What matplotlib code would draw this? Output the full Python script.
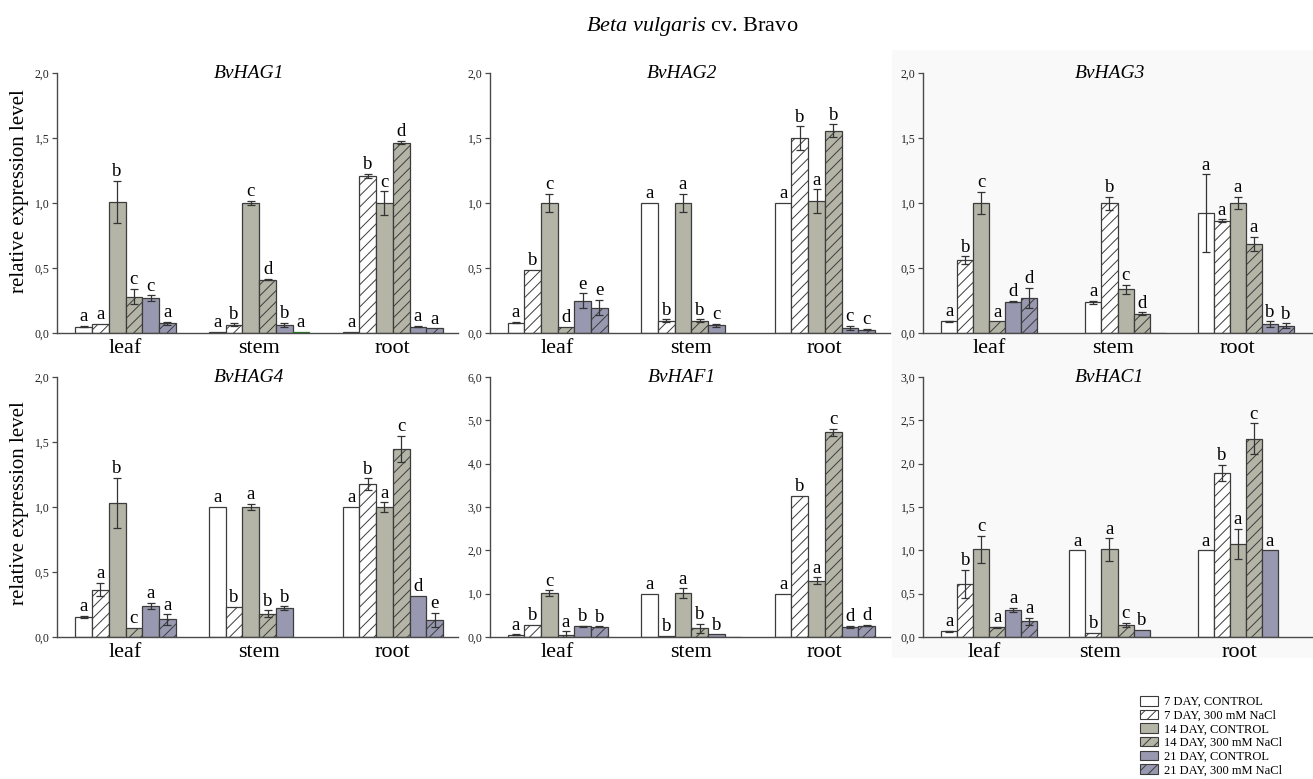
import numpy as np
import matplotlib
matplotlib.use("Agg")
import matplotlib.pyplot as plt
from matplotlib.patches import Patch, Rectangle
from matplotlib.ticker import FuncFormatter

nan = np.nan

plt.rcParams["font.family"] = ["Liberation Serif", "DejaVu Serif"]
plt.rcParams["mathtext.fontset"] = "custom"
plt.rcParams["mathtext.rm"] = "Liberation Serif"
plt.rcParams["mathtext.it"] = "Liberation Serif:italic"
plt.rcParams["hatch.linewidth"] = 0.7

TISSUES = ["leaf", "stem", "root"]
TREATMENTS = [
    "7 DAY, CONTROL",
    "7 DAY, 300 mM NaCl",
    "14 DAY, CONTROL",
    "14 DAY, 300 mM NaCl",
    "21 DAY, CONTROL",
    "21 DAY, 300 mM NaCl",
]
GENES = ["BvHAG1", "BvHAG2", "BvHAG3", "BvHAG4", "BvHAF1", "BvHAC1"]
Y_MAX = [2.0, 2.0, 2.0, 2.0, 6.0, 3.0]
Y_STEP = [0.5, 0.5, 0.5, 0.5, 1.0, 0.5]

# rows = leaf, stem, root ; columns = treatments in legend order
HAG1_MEAN = [[0.05, 0.07, 1.01, 0.28, 0.27, 0.075],
             [0.01, 0.065, 1.00, 0.41, 0.065, 0.01],
             [0.01, 1.21, 1.00, 1.465, 0.05, 0.035]]
HAG1_ERR = [[0.005, 0.0, 0.16, 0.058, 0.02, 0.01],
            [0.0, 0.01, 0.015, 0.005, 0.015, 0.0],
            [0.0, 0.015, 0.09, 0.015, 0.005, 0.0]]
HAG1_LET = [["a", "a", "b", "c", "c", "a"],
            ["a", "b", "c", "d", "b", "a"],
            ["a", "b", "c", "d", "a", "a"]]

HAG2_MEAN = [[0.08, 0.485, 1.0, 0.045, 0.25, 0.195],
             [1.0, 0.095, 1.0, 0.095, 0.06, nan],
             [1.0, 1.5, 1.015, 1.555, 0.04, 0.025]]
HAG2_ERR = [[0.005, 0.0, 0.07, 0.0, 0.055, 0.06],
            [0.0, 0.01, 0.07, 0.01, 0.01, 0.0],
            [0.0, 0.09, 0.09, 0.05, 0.015, 0.005]]
HAG2_LET = [["a", "b", "c", "d", "e", "e"],
            ["a", "b", "a", "b", "c", ""],
            ["a", "b", "a", "b", "c", "c"]]

HAG3_MEAN = [[0.09, 0.56, 1.0, 0.09, 0.24, 0.27],
             [0.235, 1.0, 0.335, 0.15, 0.003, nan],
             [0.92, 0.865, 1.0, 0.685, 0.07, 0.055]]
HAG3_ERR = [[0.005, 0.03, 0.085, 0.0, 0.005, 0.075],
            [0.015, 0.05, 0.035, 0.01, 0.0, 0.0],
            [0.3, 0.01, 0.045, 0.055, 0.02, 0.02]]
HAG3_LET = [["a", "b", "c", "a", "d", "d"],
            ["a", "b", "c", "d", "", ""],
            ["a", "a", "a", "a", "b", "b"]]

HAG4_MEAN = [[0.155, 0.365, 1.03, 0.07, 0.24, 0.135],
             [1.0, 0.23, 1.0, 0.18, 0.22, nan],
             [1.0, 1.175, 1.0, 1.445, 0.315, 0.13]]
HAG4_ERR = [[0.01, 0.05, 0.195, 0.0, 0.025, 0.04],
            [0.0, 0.0, 0.025, 0.025, 0.015, 0.0],
            [0.0, 0.045, 0.035, 0.1, 0.0, 0.055]]
HAG4_LET = [["a", "a", "b", "c", "a", "a"],
            ["a", "b", "a", "b", "b", ""],
            ["a", "b", "a", "c", "d", "e"]]

HAF1_MEAN = [[0.05, 0.28, 1.01, 0.05, 0.25, 0.235],
             [1.0, 0.03, 1.01, 0.2, 0.06, 0.01],
             [1.0, 3.25, 1.3, 4.73, 0.235, 0.26]]
HAF1_ERR = [[0.01, 0.0, 0.07, 0.08, 0.01, 0.01],
            [0.0, 0.0, 0.11, 0.11, 0.0, 0.0],
            [0.0, 0.0, 0.08, 0.08, 0.02, 0.015]]
HAF1_LET = [["a", "b", "c", "a", "b", "b"],
            ["a", "b", "a", "b", "b", ""],
            ["a", "b", "a", "c", "d", "d"]]

HAC1_MEAN = [[0.065, 0.61, 1.01, 0.11, 0.31, 0.18],
             [1.0, 0.05, 1.01, 0.14, 0.085, nan],
             [1.0, 1.895, 1.07, 2.29, 1.0, nan]]
HAC1_ERR = [[0.005, 0.165, 0.155, 0.01, 0.025, 0.04],
            [0.0, 0.0, 0.13, 0.02, 0.0, 0.0],
            [0.0, 0.095, 0.175, 0.175, 0.0, 0.0]]
HAC1_LET = [["a", "b", "c", "a", "a", "a"],
            ["a", "b", "a", "c", "b", ""],
            ["a", "b", "a", "c", "a", ""]]

MEANS = [HAG1_MEAN, HAG2_MEAN, HAG3_MEAN, HAG4_MEAN, HAF1_MEAN, HAC1_MEAN]
ERRS = [HAG1_ERR, HAG2_ERR, HAG3_ERR, HAG4_ERR, HAF1_ERR, HAC1_ERR]
LETTERS = [HAG1_LET, HAG2_LET, HAG3_LET, HAG4_LET, HAF1_LET, HAC1_LET]

# fill / hatch per treatment
FILLS = ["white", "white", "#b4b5a7", "#b4b5a7", "#9899b0", "#9899b0"]
HATCHES = [None, "///", None, "///", None, "///"]
EDGE = "#3c3c3c"
AXCOL = "#4a4a4a"

W, H = 1313, 779
fig = plt.figure(figsize=(W / 100, H / 100), dpi=100)

# faint grey panel behind the right column
fig.patches.append(Rectangle((892 / W, 1 - 658 / H), (W - 892) / W, (658 - 50) / H,
                             transform=fig.transFigure, facecolor="#f9f9f9",
                             edgecolor="none", zorder=-5))

col_left = [57, 490, 923]
col_width = [401, 400, 389]
row_top = [73, 377]
ax_h = 260
xlims = [(-4.1, 19.9), (-4.05, 19.9), (-4.15, 20.15)]

fmt = FuncFormatter(lambda v, p: f"{v:.1f}".replace(".", ","))

for k, gene in enumerate(GENES):
    r, c = divmod(k, 3)
    ax = fig.add_axes([col_left[c] / W, 1 - (row_top[r] + ax_h) / H,
                       col_width[c] / W, ax_h / H])
    ax.patch.set_alpha(0)

    centers = [0, 8, 16]
    label_x = [0, 8, 16]
    if k == 2:
        centers = [0, 9, 16]
        label_x = [0, 7.7, 15.5]
    elif k == 5:
        label_x = [-0.3, 6.9, 15.6]

    mean = np.array(MEANS[k], dtype=float)
    err = np.array(ERRS[k], dtype=float)
    ymax = Y_MAX[k]

    for t in range(6):
        xs = np.array(centers) + (t - 2.5)
        bars = ax.bar(xs, mean[:, t], width=1.0, color=FILLS[t],
                      hatch=HATCHES[t], edgecolor=EDGE, linewidth=0.9, zorder=2)
        if k == 0 and t == 5:
            bars[1].set_edgecolor("#1e7b1e")
        sel = err[:, t] > 0
        if sel.any():
            ax.errorbar(xs[sel], mean[sel, t], yerr=err[sel, t], fmt="none",
                        ecolor="#333333", elinewidth=0.9, capsize=3.2,
                        capthick=0.9, zorder=3)
        for g in range(3):
            lab = LETTERS[k][g][t]
            if lab and not np.isnan(mean[g, t]):
                ax.annotate(lab, (xs[g], mean[g, t] + err[g, t]),
                            xytext=(0, 0.5), textcoords="offset points",
                            ha="center", va="bottom", fontsize=13.5)

    ax.set_xlim(*xlims[c])
    ax.set_ylim(0, ymax)
    ax.set_yticks(np.arange(0, ymax + 1e-9, Y_STEP[k]))
    ax.yaxis.set_major_formatter(fmt)
    ax.set_xticks(label_x)
    ax.set_xticklabels(TISSUES, fontsize=16)
    ax.tick_params(axis="x", length=0, pad=4)
    ax.tick_params(axis="y", length=3.5, width=0.9, color=AXCOL,
                   labelsize=8.5, pad=2, labelcolor="#222222")
    for s in ["top", "right"]:
        ax.spines[s].set_visible(False)
    for s in ["left", "bottom"]:
        ax.spines[s].set_color(AXCOL)
        ax.spines[s].set_linewidth(1.0)

    ax.text(0.48, 1.0, gene, transform=ax.transAxes, ha="center", va="center",
            fontsize=14, style="italic")

# shared y labels
fig.text(20 / W, 1 - 191 / H, "relative expression level", rotation=90,
         ha="center", va="center", fontsize=15)
fig.text(20 / W, 1 - 503 / H, "relative expression level", rotation=90,
         ha="center", va="center", fontsize=15)

# figure title
fig.text(692 / W, 1 - 26 / H, r"$Beta\ vulgaris$ cv. Bravo",
         ha="center", va="center", fontsize=16)

handles = [Patch(facecolor=FILLS[t], hatch=HATCHES[t], edgecolor=EDGE,
                 linewidth=0.8) for t in range(6)]
fig.legend(handles, TREATMENTS, loc="upper left",
           bbox_to_anchor=(1140 / W, 1 - 696 / H), frameon=False,
           fontsize=9, handlelength=1.45, handleheight=0.8,
           handletextpad=0.5, labelspacing=0.12, borderpad=0,
           borderaxespad=0)

fig.savefig("out.png", dpi=100)
